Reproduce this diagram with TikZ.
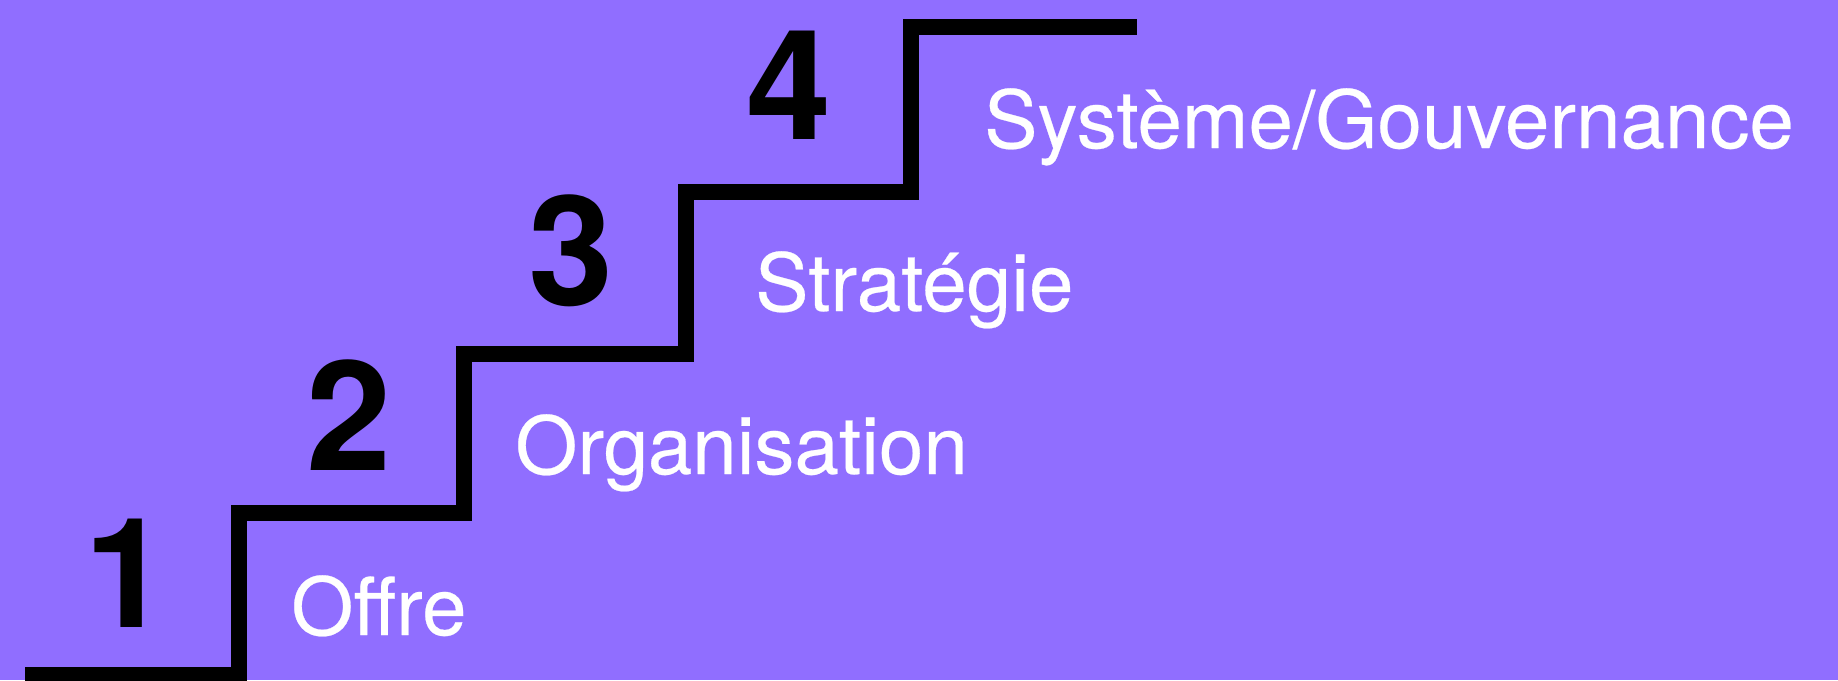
\documentclass[tikz,border=0pt]{standalone}
\usepackage{fontspec}
\setmainfont{TeX Gyre Heros}
\newfontfamily\labfont[FakeBold=0.3]{TeX Gyre Heros}
\definecolor{bgpurple}{RGB}{144,110,255}
\begin{document}
\begin{tikzpicture}[x=1pt,y=-1pt,
  num/.style={font=\fontsize{153}{160}\selectfont\bfseries, text=black, inner sep=0pt, anchor=base},
  lab/.style={font=\labfont\fontsize{80}{96}\selectfont, text=white, inner sep=0pt, anchor=base west},
  stair/.style={line width=16pt, draw=black, line join=miter}]
\fill[bgpurple] (0,0) rectangle (1838,680);
\useasboundingbox (0,0) rectangle (1838,680);
\draw[stair] (25,675) -- (239,675) -- (239,512.5) -- (464,512.5) -- (464,354) -- (686,354) -- (686,192) -- (911,192) -- (911,27) -- (1137,27);
\node[num] (n1) at (127,627.7) {1};
\node[num] (n2) at (349,470) {2};
\node[num] (n3) at (571,305) {3};
\node[num] (n4) at (789,139) {4};
\node[lab] (l1) at (291,635) {Offre};
\node[lab] (l2) at (515,474) {Organisation};
\node[lab] (l3) at (755,311) {Stratégie};
\node[lab] (l4) at (984,148) {Système/Gouvernance};
\end{tikzpicture}
\end{document}
